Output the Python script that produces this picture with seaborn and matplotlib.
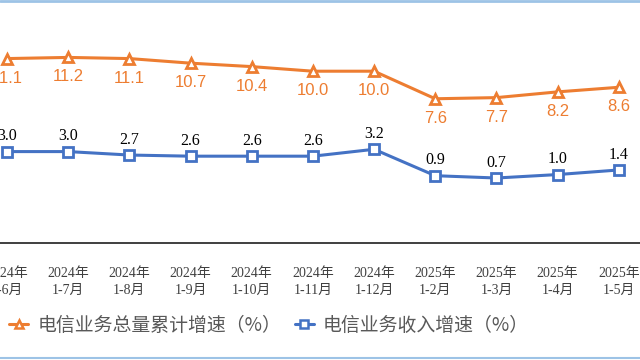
import numpy as np
import pandas as pd
import matplotlib
matplotlib.use("Agg")
import matplotlib.pyplot as plt
import seaborn as sns
from matplotlib.lines import Line2D

# ── données ─────────────────────────────────────────────
periods = ["2024年\n1-6月", "2024年\n1-7月", "2024年\n1-8月", "2024年\n1-9月",
           "2024年\n1-10月", "2024年\n1-11月", "2024年\n1-12月", "2025年\n1-2月",
           "2025年\n1-3月", "2025年\n1-4月", "2025年\n1-5月"]
volume_growth = [11.1, 11.2, 11.1, 10.7, 10.4, 10.0, 10.0, 7.6, 7.7, 8.2, 8.6]
revenue_growth = [3.0, 3.0, 2.7, 2.6, 2.6, 2.6, 3.2, 0.9, 0.7, 1.0, 1.4]
name_volume = "电信业务总量累计增速（%）"
name_revenue = "电信业务收入增速（%）"

ORANGE = "#ED7D31"
BLUE = "#4472C4"

sns.set_style("white")
plt.rcParams["font.family"] = ["Noto Sans CJK SC", "DejaVu Sans"]

df = pd.DataFrame({
    "idx": list(range(len(periods))) * 2,
    "value": volume_growth + revenue_growth,
    "serie": [name_volume] * len(periods) + [name_revenue] * len(periods),
})

fig = plt.figure(figsize=(6.4, 3.6), dpi=100)
# l'axe déborde à gauche et à droite comme sur l'image d'origine (recadrée)
ax = fig.add_axes([-23.6 / 640, 1 - 243 / 360, 673 / 640, 243 / 360])

sns.lineplot(data=df, x="idx", y="value", hue="serie", style="serie",
             palette={name_volume: ORANGE, name_revenue: BLUE},
             markers={name_volume: "^", name_revenue: "s"},
             dashes=False, linewidth=2.2, markersize=7,
             markerfacecolor="white", markeredgewidth=2,
             legend=False, ax=ax)
# seaborn met un contour blanc par défaut -> contour de la couleur de la ligne
for line in ax.lines:
    line.set_markeredgecolor(line.get_color())
    if line.get_marker() == "s":
        line.set_markersize(6.5)

for i, v in enumerate(volume_growth):
    ax.annotate(f"{v:.1f}", (i, v), xytext=(0, -14), textcoords="offset points",
                ha="center", va="center", color=ORANGE, fontsize=12,
                family="Liberation Sans")
for i, v in enumerate(revenue_growth):
    ax.annotate(f"{v:.1f}", (i, v), xytext=(0, 11), textcoords="offset points",
                ha="center", va="center", color="black", fontsize=11.5,
                family="Liberation Serif")

ax.set_xlim(-0.5, len(periods) - 0.5)
ax.set_ylim(-4.96, 16.2)
ax.set_xticks(range(len(periods)))
ax.set_xticklabels(periods, fontsize=10, color="#404040", linespacing=1.45,
                   family=["Liberation Serif", "Noto Sans CJK SC"])
ax.set_xticks(np.arange(-0.5, len(periods), 1), minor=True)
ax.tick_params(axis="x", which="major", length=0, pad=17)
ax.tick_params(axis="x", which="minor", length=5, width=1, color="#404040",
               direction="out")
ax.set_yticks([])
ax.set_xlabel("")
ax.set_ylabel("")
for s in ["top", "left", "right"]:
    ax.spines[s].set_visible(False)
ax.spines["bottom"].set_color("#303030")
ax.spines["bottom"].set_linewidth(1.3)

handles = [
    Line2D([], [], color=ORANGE, lw=2.2, marker="^", markersize=6,
           markerfacecolor="white", markeredgewidth=1.8),
    Line2D([], [], color=BLUE, lw=2.2, marker="s", markersize=5.5,
           markerfacecolor="white", markeredgewidth=1.8),
]
fig.legend(handles, [name_volume, name_revenue], loc="center left",
           bbox_to_anchor=(-0.012, 1 - 325 / 360), ncol=2, frameon=False,
           fontsize=13.6, labelcolor="#595959", handlelength=1.0,
           handletextpad=0.5, columnspacing=0.7)

# liseré bleu clair haut et bas
fig.add_artist(Line2D([0, 1], [0.997, 0.997], color="#9DC3E6", lw=2,
                      transform=fig.transFigure))
fig.add_artist(Line2D([0, 1], [0.006, 0.006], color="#9DC3E6", lw=1.5,
                      transform=fig.transFigure))

fig.savefig("out.png", dpi=100)
